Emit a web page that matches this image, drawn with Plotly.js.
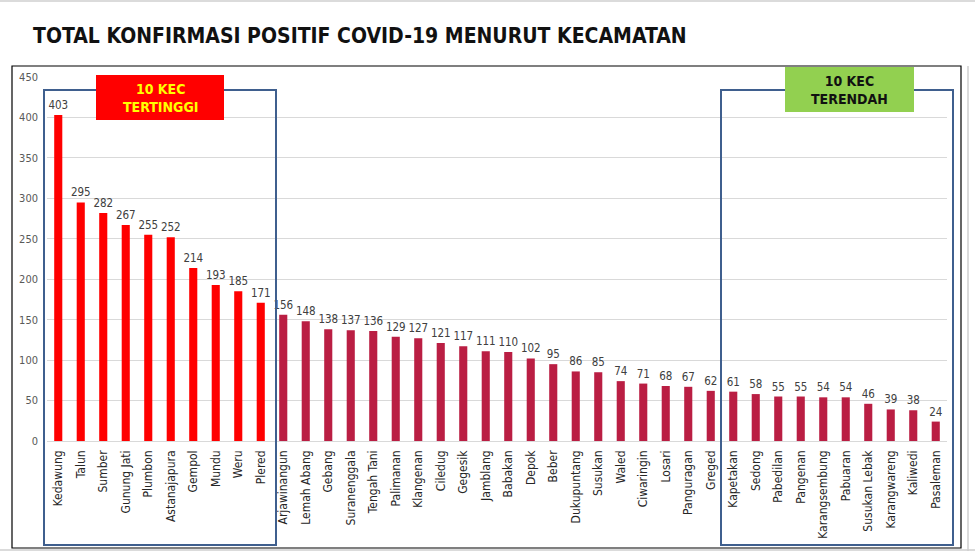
<!DOCTYPE html>
<html>
<head>
<meta charset="utf-8">
<script src="https://cdn.plot.ly/plotly-3.0.1.min.js"></script>
<style>html,body{margin:0;padding:0;background:#fff;}#chart{width:975px;height:551px;}</style>
</head>
<body>
<div id="chart"></div>
<script>
const kecamatan = ["Kedawung","Talun","Sumber","Gunung Jati","Plumbon","Astanajapura","Gempol","Mundu","Weru","Plered",
  "Arjawinangun","Lemah Abang","Gebang","Suranenggala","Tengah Tani","Palimanan","Klangenan","Ciledug","Gegesik","Jamblang",
  "Babakan","Depok","Beber","Dukupuntang","Susukan","Waled","Ciwaringin","Losari","Panguragan","Greged",
  "Kapetakan","Sedong","Pabedilan","Pangenan","Karangsembung","Pabuaran","Susukan Lebak","Karangwareng","Kaliwedi","Pasaleman"];
const positif = [403,295,282,267,255,252,214,193,185,171,
  156,148,138,137,136,129,127,121,117,111,
  110,102,95,86,85,74,71,68,67,62,
  61,58,55,55,54,54,46,39,38,24];
const yTicks = [0,50,100,150,200,250,300,350,400,450];

const colors = positif.map((v,i)=> i<10 ? '#FF0000' : '#BA1E43');

const trace = {
  type:'bar', x:kecamatan, y:positif,
  marker:{color:colors},
  text:positif.map(String), textposition:'outside', cliponaxis:false, constraintext:'none',
  textfont:{family:'DejaVu Sans Condensed', size:11.5, color:'#404040'},
  hoverinfo:'x+y'
};

function px(x){return (x-47)/900;}
function py(y){return (441-y)/364;}

const layout = {
  width:975, height:551,
  margin:{l:47, r:28, t:77, b:110},
  paper_bgcolor:'#fff', plot_bgcolor:'#fff',
  showlegend:false,
  bargap:0.64,
  title:{text:'TOTAL KONFIRMASI POSITIF COVID-19 MENURUT KECAMATAN',
    x:33/975, xanchor:'left', xref:'container', y:1-36/551, yanchor:'middle', yref:'container',
    font:{family:'DejaVu Sans Condensed', size:21, color:'#111', weight:'bold'}},
  xaxis:{type:'category', tickangle:-90, ticks:'', showgrid:false, showline:false,
    tickfont:{family:'DejaVu Sans Condensed', size:12, color:'#262626'}, ticklabelstandoff:6, fixedrange:true},
  yaxis:{range:[0,450], tickvals:yTicks, ticktext:yTicks.map(String), showgrid:true, gridcolor:'#D9D9D9', gridwidth:1,
    zeroline:true, zerolinecolor:'#D9D9D9', showline:false, ticks:'',
    tickfont:{family:'DejaVu Sans Condensed', size:11, color:'#595959'}, ticklabelstandoff:8, fixedrange:true},
  shapes:[
    {type:'rect', xref:'paper', yref:'paper', x0:px(12), x1:px(961), y0:py(548), y1:py(66), line:{color:'#000', width:1.2}, layer:'below'},
    {type:'line', xref:'paper', yref:'paper', x0:px(968), x1:px(968), y0:py(551), y1:py(66), line:{color:'#CFCFCF', width:1.5}},
    {type:'line', xref:'paper', yref:'paper', x0:px(0), x1:px(975), y0:py(550), y1:py(550), line:{color:'#CFCFCF', width:1.5}},
    {type:'line', xref:'paper', yref:'paper', x0:px(0), x1:px(975), y0:py(1), y1:py(1), line:{color:'#CFCFCF', width:1.5}},
    {type:'rect', xref:'paper', yref:'paper', x0:px(44), x1:px(276), y0:py(545), y1:py(90), line:{color:'#3F5F8E', width:2}},
    {type:'rect', xref:'paper', yref:'paper', x0:px(721), x1:px(953), y0:py(545), y1:py(90), line:{color:'#3F5F8E', width:2}},
    {type:'rect', xref:'paper', yref:'paper', x0:px(96), x1:px(224), y0:py(120), y1:py(75), fillcolor:'#FF0000', line:{width:0}},
    {type:'rect', xref:'paper', yref:'paper', x0:px(785), x1:px(914), y0:py(112), y1:py(67), fillcolor:'#92D050', line:{width:0}}
  ],
  annotations:[
    {xref:'paper', yref:'paper', x:px(160), y:py(97.5), xanchor:'center', yanchor:'middle', text:'10 KEC<br>TERTINGGI', showarrow:false,
      font:{family:'DejaVu Sans Condensed', size:14, color:'#FFFF00', weight:'bold'}, align:'center'},
    {xref:'paper', yref:'paper', x:px(849.5), y:py(89.5), xanchor:'center', yanchor:'middle', text:'10 KEC<br>TERENDAH', showarrow:false,
      font:{family:'DejaVu Sans Condensed', size:14, color:'#111', weight:'bold'}, align:'center'}
  ]
};

Plotly.newPlot('chart',[trace],layout,{displayModeBar:false, staticPlot:true});
</script>
</body>
</html>
